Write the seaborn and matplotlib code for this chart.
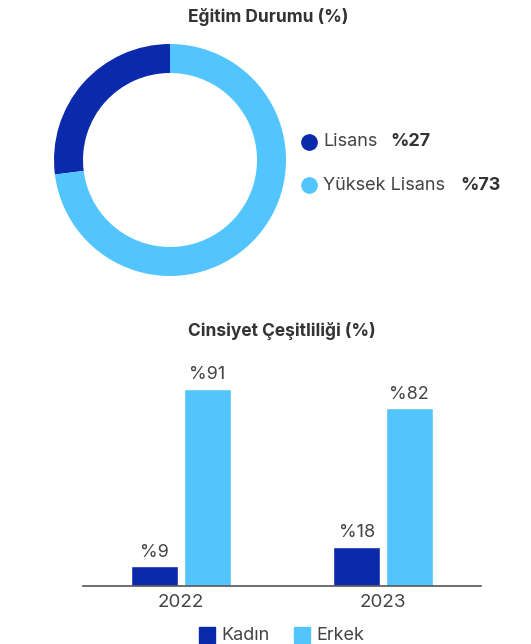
import matplotlib
matplotlib.use("Agg")
import matplotlib.pyplot as plt
import seaborn as sns
import pandas as pd

# Data
edu_labels = ["Lisans", "Yüksek Lisans"]
edu_values = [27, 73]
years = ["2022", "2023"]
kadin = [9, 18]
erkek = [91, 82]
genders = ["Kadın", "Erkek"]

DARK = "#0A2AAB"
LIGHT = "#52C5FE"
TXT = "#333333"

sns.set_theme(style="white")
plt.rcParams["font.family"] = ["Inter", "DejaVu Sans"]

W, H = 531, 644
fig = plt.figure(figsize=(W / 100, H / 100), dpi=100)

# Donut
cx, cy, r = 170, 160, 116
axd = fig.add_axes([(cx - r) / W, (H - cy - r) / H, 2 * r / W, 2 * r / H])
axd.pie(edu_values, colors=[DARK, LIGHT], startangle=90, counterclock=True,
        radius=1, wedgeprops=dict(width=0.25, edgecolor="none"))
axd.set_xlim(-1, 1)
axd.set_ylim(-1, 1)
axd.set_axis_off()
fig.text(268 / W, 1 - 17 / H, "Eğitim Durumu (%)", ha="center", va="center",
         fontsize=12.5, fontweight="bold", color=TXT)

# donut legend
leg_y = [142, 185]
val_x = [390, 460]
for lab, val, col, y, vx in zip(edu_labels, edu_values, [DARK, LIGHT], leg_y, val_x):
    fig.add_artist(plt.Line2D([309 / W], [1 - y / H], marker="o", markersize=11,
                              color=col, transform=fig.transFigure))
    fig.text(323 / W, 1 - y / H, lab, ha="left", va="center", fontsize=13, color="#444444")
    fig.text(vx / W, 1 - y / H, f"%{val}", ha="left", va="center", fontsize=13,
             fontweight="bold", color=TXT)

# Bar chart
df = pd.DataFrame({
    "Yıl": years * 2,
    "Cinsiyet": [genders[0]] * len(years) + [genders[1]] * len(years),
    "Değer": kadin + erkek,
})
base = 586
scale = 2.17
axb = fig.add_axes([83 / W, (H - base) / H, (481 - 83) / W, 100 * scale / H])
sns.barplot(data=df, x="Yıl", y="Değer", hue="Cinsiyet", hue_order=genders,
            palette=[DARK, LIGHT], width=0.52, gap=0.1, ax=axb, legend=False,
            saturation=1)
axb.set_xlim(-0.485, 1.485)
axb.set_ylim(0, 100)
for c in axb.containers:
    axb.bar_label(c, labels=[f"%{int(v)}" for v in c.datavalues], padding=4,
                  fontsize=13, color="#444444", clip_on=False)
for s in ["top", "right", "left"]:
    axb.spines[s].set_visible(False)
axb.spines["bottom"].set_color("#555555")
axb.spines["bottom"].set_linewidth(1.2)
axb.set_yticks([])
axb.set_xlabel("")
axb.set_ylabel("")
axb.tick_params(axis="x", length=0, labelsize=13.5, labelcolor="#444444", pad=6)
fig.text(282 / W, 1 - 331 / H, "Cinsiyet Çeşitliliği (%)", ha="center", va="center",
         fontsize=12.5, fontweight="bold", color=TXT)

# bar legend
for lab, col, x in zip(genders, [DARK, LIGHT], [207, 302]):
    fig.add_artist(plt.Line2D([x / W], [1 - 635 / H], marker="s", markersize=12,
                              color=col, transform=fig.transFigure, linestyle="none"))
    fig.text((x + 14) / W, 1 - 635 / H, lab, ha="left", va="center", fontsize=13,
             color="#444444")

fig.savefig("out.png", dpi=100, facecolor="white")
